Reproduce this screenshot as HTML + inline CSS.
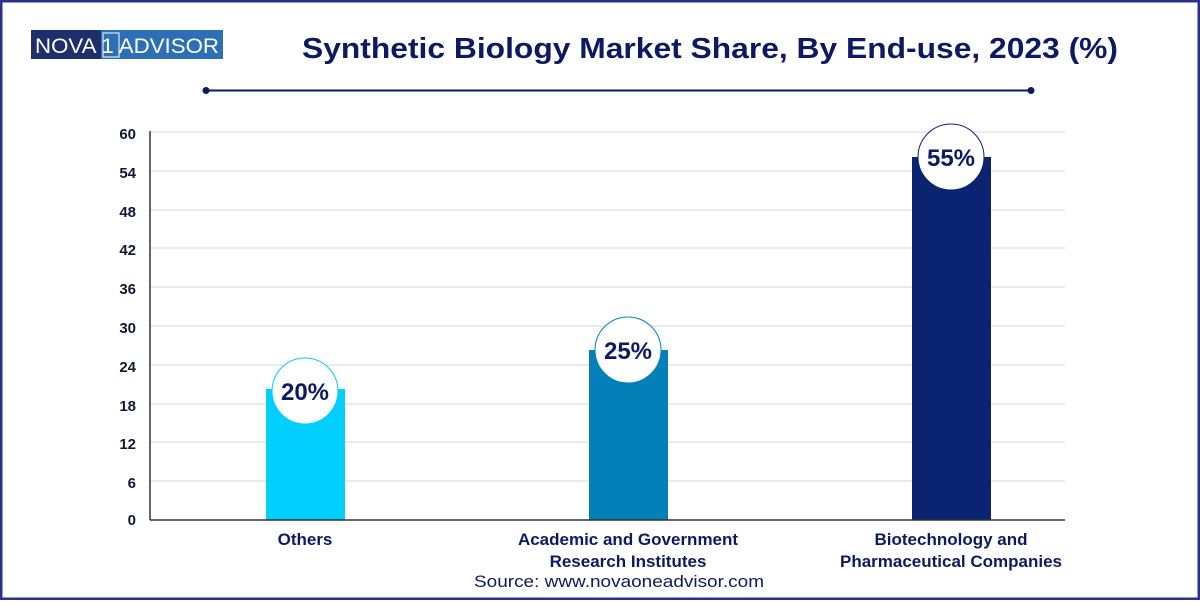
<!DOCTYPE html>
<html><head><style>
body{margin:0;width:1200px;height:600px;overflow:hidden;background:#fff;font-family:"Liberation Sans",Arial,sans-serif}
</style></head><body>
<svg width="1200" height="600" xmlns="http://www.w3.org/2000/svg" font-family="Liberation Sans, Arial, sans-serif">
<rect x="1" y="1" width="1198" height="598" fill="#fff" stroke="#2b2f8f" stroke-width="3"/>
<rect x="31" y="30" width="70" height="29" fill="#1f2f6b"/>
<rect x="101" y="30" width="122" height="29" fill="#2c6fb5"/>
<text x="35" y="53" font-size="21" fill="#fff" textLength="184" lengthAdjust="spacingAndGlyphs">NOVA 1 ADVISOR</text>
<rect x="103" y="33" width="16" height="24" fill="none" stroke="#fff" stroke-width="1"/>
<text x="710" y="58" text-anchor="middle" font-size="29" font-weight="bold" fill="#0d1a63" textLength="816" lengthAdjust="spacingAndGlyphs">Synthetic Biology Market Share, By End-use, 2023 (%)</text>
<line x1="206" y1="90.5" x2="1031" y2="90.5" stroke="#0d1a63" stroke-width="2"/>
<circle cx="206" cy="90.5" r="3.5" fill="#0d1a63"/><circle cx="1031" cy="90.5" r="3.5" fill="#0d1a63"/>
<g stroke="#ebebeb" stroke-width="2">
<line x1="151" y1="132" x2="1065" y2="132"/><line x1="151" y1="171" x2="1065" y2="171"/><line x1="151" y1="210" x2="1065" y2="210"/><line x1="151" y1="248" x2="1065" y2="248"/><line x1="151" y1="287" x2="1065" y2="287"/><line x1="151" y1="326" x2="1065" y2="326"/><line x1="151" y1="365" x2="1065" y2="365"/><line x1="151" y1="404" x2="1065" y2="404"/><line x1="151" y1="442" x2="1065" y2="442"/><line x1="151" y1="481" x2="1065" y2="481"/>
</g>
<g font-size="15" font-weight="bold" fill="#0d1a33" text-anchor="end">
<text x="136" y="139">60</text><text x="136" y="178">54</text><text x="136" y="217">48</text><text x="136" y="255">42</text><text x="136" y="294">36</text><text x="136" y="333">30</text><text x="136" y="372">24</text><text x="136" y="411">18</text><text x="136" y="449">12</text><text x="136" y="488">6</text><text x="136" y="525">0</text>
</g>
<rect x="266" y="389" width="79" height="131" fill="#00cfff"/>
<rect x="589" y="350" width="79" height="170" fill="#0480b8"/>
<rect x="912" y="157" width="79" height="363" fill="#0a2472"/>
<line x1="150" y1="131" x2="150" y2="520" stroke="#333" stroke-width="1.5"/>
<line x1="150" y1="520" x2="1065" y2="520" stroke="#333" stroke-width="1.5"/>
<circle cx="305" cy="391" r="33" fill="#fff" stroke="#00cfff" stroke-width="1"/>
<circle cx="628" cy="350" r="33" fill="#fff" stroke="#0480b8" stroke-width="1"/>
<circle cx="951" cy="157" r="33" fill="#fff" stroke="#0a2472" stroke-width="1"/>
<g font-size="24" font-weight="bold" fill="#0d1a63" text-anchor="middle">
<text x="305" y="400">20%</text><text x="628" y="359">25%</text><text x="951" y="166">55%</text>
</g>
<g font-size="17" font-weight="bold" fill="#0d1a63" text-anchor="middle">
<text x="305" y="545">Others</text>
<text x="628" y="545">Academic and Government</text><text x="628" y="567">Research Institutes</text>
<text x="951" y="545">Biotechnology and</text><text x="951" y="567">Pharmaceutical Companies</text>
</g>
<text x="619" y="587" text-anchor="middle" font-size="17" fill="#0d1a63" textLength="290" lengthAdjust="spacingAndGlyphs">Source: www.novaoneadvisor.com</text>
</svg>
</body></html>
